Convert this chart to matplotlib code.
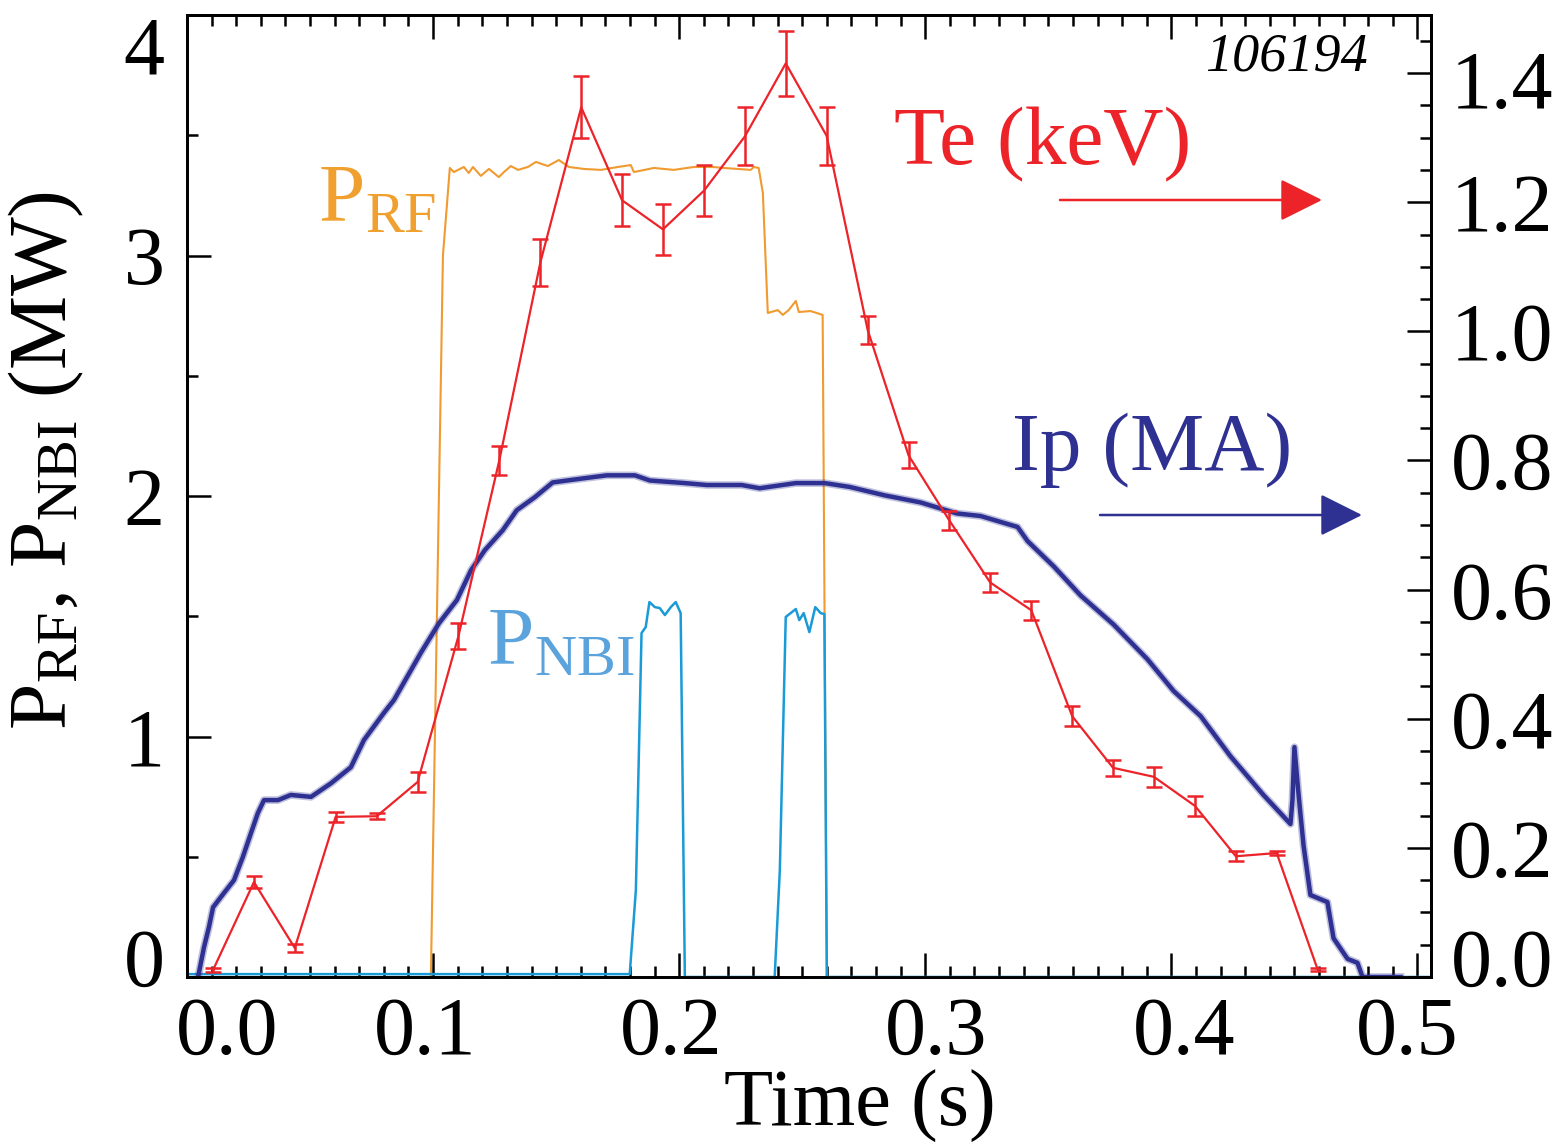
import matplotlib
matplotlib.use("Agg")
import matplotlib.pyplot as plt
from matplotlib.ticker import MultipleLocator
from matplotlib.transforms import ScaledTranslation

# shot 106194: RF / NBI heating power, plasma current and electron temperature
SHOT = "106194"

# P_RF (MW)
t_rf = [0.0, 0.0991, 0.1040, 0.1068, 0.1084, 0.1125, 0.1145, 0.1162, 0.1194, 0.1227,
        0.1267, 0.1288, 0.1316, 0.1345, 0.1385, 0.1418, 0.1466, 0.1511, 0.1552, 0.1612,
        0.1682, 0.1751, 0.1803, 0.1816, 0.1897, 0.1978, 0.2059, 0.2136, 0.2181, 0.2291,
        0.2303, 0.2323, 0.2340, 0.2360, 0.2401, 0.2421, 0.2445, 0.2474, 0.2486, 0.2534,
        0.2583, 0.2600, 0.5055]
p_rf = [0.0, 0.0, 3.00, 3.364, 3.347, 3.368, 3.343, 3.368, 3.331, 3.360,
        3.326, 3.347, 3.372, 3.356, 3.368, 3.389, 3.372, 3.397, 3.368, 3.360,
        3.356, 3.368, 3.376, 3.347, 3.364, 3.356, 3.368, 3.368, 3.364, 3.356,
        3.368, 3.364, 3.260, 2.761, 2.773, 2.753, 2.773, 2.811, 2.765, 2.769,
        2.753, 0.0, 0.0]

# P_NBI (MW)
t_nbi = [0.0, 0.1799, 0.1824, 0.1847, 0.1864, 0.1879, 0.1901, 0.1921, 0.1942, 0.1966,
         0.1986, 0.2006, 0.2023, 0.2388, 0.2409, 0.2433, 0.2474, 0.2488, 0.2506, 0.2529,
         0.2553, 0.2575, 0.2590, 0.2600, 0.5055]
p_nbi = [0.012, 0.012, 0.362, 1.430, 1.455, 1.559, 1.538, 1.534, 1.505, 1.538,
         1.559, 1.513, 0.0, 0.0, 0.445, 1.497, 1.530, 1.484, 1.513, 1.434,
         1.538, 1.513, 1.509, 0.0, 0.0]

# Ip (MA)
t_ip = [0.0045, 0.0069, 0.0089, 0.0106, 0.0150, 0.0191, 0.0227, 0.0260, 0.0288, 0.0313,
        0.0370, 0.0422, 0.0504, 0.0585, 0.0666, 0.0719, 0.0800, 0.0841, 0.0950, 0.1024,
        0.1097, 0.1154, 0.1210, 0.1283, 0.1340, 0.1413, 0.1486, 0.1604, 0.1706, 0.1820,
        0.1881, 0.2023, 0.2112, 0.2254, 0.2327, 0.2474, 0.2591, 0.2693, 0.2835, 0.2981,
        0.3128, 0.3225, 0.3375, 0.3416, 0.3522, 0.3631, 0.3765, 0.3903, 0.4009, 0.4119,
        0.4240, 0.4374, 0.4484, 0.4492, 0.4500, 0.4517, 0.4537, 0.4565, 0.4634, 0.4659,
        0.4716, 0.4756, 0.4777, 0.4931]
ip = [0.000, 0.046, 0.077, 0.108, 0.130, 0.150, 0.186, 0.223, 0.254, 0.274,
      0.274, 0.282, 0.279, 0.300, 0.325, 0.367, 0.409, 0.429, 0.502, 0.548,
      0.584, 0.630, 0.661, 0.692, 0.723, 0.743, 0.766, 0.772, 0.777, 0.777,
      0.769, 0.765, 0.762, 0.762, 0.757, 0.765, 0.765, 0.759, 0.746, 0.735,
      0.718, 0.714, 0.697, 0.675, 0.636, 0.591, 0.546, 0.492, 0.443, 0.404,
      0.342, 0.282, 0.237, 0.274, 0.356, 0.282, 0.204, 0.127, 0.116, 0.060,
      0.028, 0.022, 0.000, 0.000]

# Te (keV) with error bars
t_te = [0.0106, 0.0272, 0.0438, 0.0604, 0.0771, 0.0937, 0.1103, 0.1269, 0.1436, 0.1602,
        0.1768, 0.1934, 0.2101, 0.2267, 0.2433, 0.2599, 0.2766, 0.2932, 0.3098, 0.3264,
        0.3431, 0.3597, 0.3763, 0.3929, 0.4096, 0.4262, 0.4428, 0.4594]
te = [0.011, 0.147, 0.045, 0.248, 0.249, 0.302, 0.528, 0.800, 1.107, 1.347,
      1.203, 1.158, 1.218, 1.302, 1.415, 1.303, 1.002, 0.808, 0.707, 0.611,
      0.568, 0.404, 0.324, 0.310, 0.265, 0.187, 0.192, 0.012]
te_err = [0.003, 0.009, 0.006, 0.008, 0.005, 0.016, 0.020, 0.023, 0.036, 0.048,
          0.040, 0.039, 0.040, 0.045, 0.050, 0.045, 0.022, 0.020, 0.014, 0.014,
          0.015, 0.015, 0.012, 0.015, 0.015, 0.008, 0.003, 0.002]

x_ticks = [0.0, 0.1, 0.2, 0.3, 0.4, 0.5]
x_ticklabels = ["0.0", "0.1", "0.2", "0.3", "0.4", "0.5"]
left_ticks = [0, 1, 2, 3, 4]
right_ticks = [0.0, 0.2, 0.4, 0.6, 0.8, 1.0, 1.2, 1.4]
right_ticklabels = ["0.0", "0.2", "0.4", "0.6", "0.8", "1.0", "1.2", "1.4"]

C_RF = "#F09A30"
C_RF_TXT = "#F0A02E"
C_NBI = "#1A9AD6"
C_NBI_TXT = "#5BA3DC"
C_IP = "#2E3192"
C_TE = "#EC2329"

plt.rcParams["font.family"] = ["Liberation Serif", "DejaVu Serif"]
plt.rcParams["mathtext.fontset"] = "custom"
plt.rcParams["mathtext.rm"] = "Liberation Serif"
plt.rcParams["mathtext.it"] = "Liberation Serif:italic"

W, H = 1564, 1144
fig = plt.figure(figsize=(W / 100, H / 100), dpi=100)
L, R, T, B = 187, 1431, 15, 977
ax = fig.add_axes([L / W, 1 - B / H, (R - L) / W, (B - T) / H])

ax.plot(t_rf, p_rf, color=C_RF, lw=1.5, zorder=2)
ax.plot(t_nbi, p_nbi, color=C_NBI, lw=1.8, zorder=3)
ax.set_xlim(0, 0.5055)
ax.set_ylim(0, 4)

ax.set_xticks(x_ticks)
ax.set_xticklabels(x_ticklabels)
ax.xaxis.set_minor_locator(MultipleLocator(0.01))
ax.set_yticks(left_ticks)
ax.set_yticklabels([str(v) for v in left_ticks])
ax.yaxis.set_minor_locator(MultipleLocator(0.5))

for s in ax.spines.values():
    s.set_linewidth(2.0)
ax.tick_params(which="both", direction="in", top=True, bottom=True, left=True, right=False,
               width=1.8, labelsize=59)
ax.tick_params(which="major", length=17)
ax.tick_params(which="minor", length=8)
ax.tick_params(axis="x", pad=14)
ax.tick_params(axis="y", pad=16)

ax.set_xlabel("Time (s)", fontsize=58)
ax.xaxis.set_label_coords((860 - L) / (R - L), (B - 1070) / (B - T))
ax.set_ylabel(r"P$_{\mathrm{RF}}$, P$_{\mathrm{NBI}}$ (MW)", fontsize=60)
ax.yaxis.set_label_coords((86 - L) / (R - L), (B - 460) / (B - T))

ax2 = ax.twinx()
# faint wider stroke under Ip gives the noisy trace its fuzzy width
ax2.plot(t_ip, ip, color=C_IP, lw=5.5, alpha=0.3, zorder=2, solid_joinstyle="round")
ax2.plot(t_ip, ip, color=C_IP, lw=3.2, zorder=2)
ax2.errorbar(t_te, te, yerr=te_err, color=C_TE, lw=1.6, elinewidth=1.8,
             capsize=6, capthick=1.8, zorder=3)
ax2.set_ylim(0, 1.49)
ax2.set_yticks(right_ticks)
ax2.set_yticklabels(right_ticklabels)
ax2.yaxis.set_minor_locator(MultipleLocator(0.05))
for s in ax2.spines.values():
    s.set_linewidth(2.0)
ax2.tick_params(which="both", direction="in", width=1.8, labelsize=59, pad=14)
ax2.tick_params(which="major", length=17)
ax2.tick_params(which="minor", length=8)


def nudge(label, dx, dy):
    label.set_transform(label.get_transform()
                        + ScaledTranslation(dx / 100, dy / 100, fig.dpi_scale_trans))


for lab, dx in zip(ax.get_xticklabels(), [40, -8, -8, 11, 13, -10]):
    nudge(lab, dx, 0)
nudge(ax.get_yticklabels()[0], 0, 20)
nudge(ax.get_yticklabels()[-1], 0, -30)
nudge(ax2.get_yticklabels()[0], 0, 20)
nudge(ax2.get_yticklabels()[-1], 0, -6)


def frac(px, py):
    return (px - L) / (R - L), (B - py) / (B - T)


tr = ax2.transAxes
ax2.text(*frac(1368, 57), SHOT, transform=tr, ha="right", va="center",
         fontsize=39, style="italic")
ax2.text(*frac(1043, 145), "Te (keV)", transform=tr, ha="center", va="center",
         fontsize=60, color=C_TE)
ax2.annotate("", xy=frac(1322, 200), xytext=frac(1060, 200), xycoords=tr, textcoords=tr,
             arrowprops=dict(arrowstyle="-|>,head_length=0.4,head_width=0.2",
                             color=C_TE, lw=1.8, mutation_scale=66, shrinkA=0, shrinkB=0))
ax2.text(*frac(1152, 450), "Ip (MA)", transform=tr, ha="center", va="center",
         fontsize=60, color=C_IP)
ax2.annotate("", xy=frac(1362, 515), xytext=frac(1100, 515), xycoords=tr, textcoords=tr,
             arrowprops=dict(arrowstyle="-|>,head_length=0.4,head_width=0.2",
                             color=C_IP, lw=1.8, mutation_scale=66, shrinkA=0, shrinkB=0))
ax2.text(*frac(318, 222), r"P$_{\mathrm{RF}}$", transform=tr, ha="left", va="baseline",
         fontsize=60, color=C_RF_TXT)
ax2.text(*frac(487, 665), r"P$_{\mathrm{NBI}}$", transform=tr, ha="left", va="baseline",
         fontsize=60, color=C_NBI_TXT)

fig.savefig("out.png", dpi=100)
